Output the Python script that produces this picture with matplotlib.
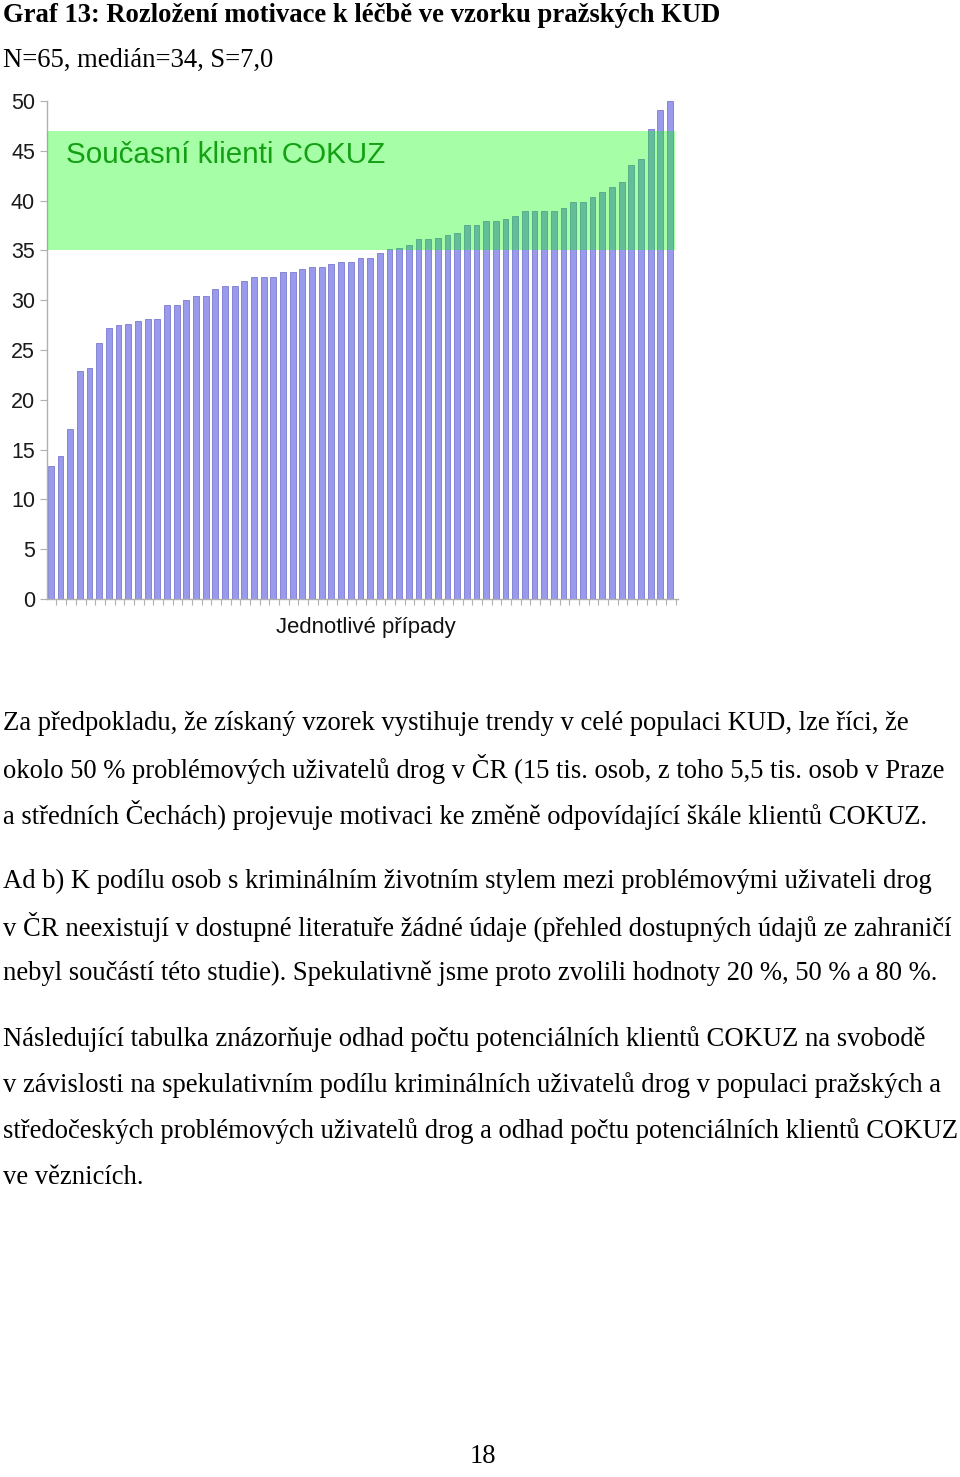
import numpy as np
import matplotlib
matplotlib.use("Agg")
import matplotlib.pyplot as plt

# hodnoty motivace jednotlivych pripadu (serazene)
hodnoty = [13.4, 14.4, 17.1, 22.9, 23.2, 25.7, 27.2, 27.5, 27.6, 27.9,
           28.1, 28.1, 29.5, 29.5, 30.0, 30.4, 30.4, 31.1, 31.4, 31.4,
           31.9, 32.3, 32.3, 32.3, 32.8, 32.8, 33.1, 33.3, 33.3, 33.6,
           33.8, 33.8, 34.2, 34.2, 34.7, 35.1, 35.2, 35.5, 36.1, 36.1,
           36.2, 36.5, 36.7, 37.6, 37.6, 38.0, 38.0, 38.2, 38.5, 39.0,
           39.0, 39.0, 39.0, 39.3, 39.9, 39.9, 40.4, 40.9, 41.4, 41.9,
           43.6, 44.2, 47.2, 49.1, 50.0]
pasmo = (35, 47)
y_ticks = [0, 5, 10, 15, 20, 25, 30, 35, 40, 45, 50]

nadpis = "Graf 13: Rozložení motivace k léčbě ve vzorku pražských KUD"
podnadpis = "N=65, medián=34, S=7,0"
popis_pasma = "Současní klienti COKUZ"
popis_x = "Jednotlivé případy"
odstavce = [
    ["Za předpokladu, že získaný vzorek vystihuje trendy v celé populaci KUD, lze říci, že",
     "okolo 50 % problémových uživatelů drog v ČR (15 tis. osob, z toho 5,5 tis. osob v Praze",
     "a středních Čechách) projevuje motivaci ke změně odpovídající škále klientů COKUZ."],
    ["Ad b) K podílu osob s kriminálním životním stylem mezi problémovými uživateli drog",
     "v ČR neexistují v dostupné literatuře žádné údaje (přehled dostupných údajů ze zahraničí",
     "nebyl součástí této studie). Spekulativně jsme proto zvolili hodnoty 20 %, 50 % a 80 %."],
    ["Následující tabulka znázorňuje odhad počtu potenciálních klientů COKUZ na svobodě",
     "v závislosti na spekulativním podílu kriminálních uživatelů drog v populaci pražských a",
     "středočeských problémových uživatelů drog a odhad počtu potenciálních klientů COKUZ",
     "ve věznicích."],
]
cislo_strany = "18"

W, H = 960, 1477
fig = plt.figure(figsize=(W / 100, H / 100), dpi=100)

def fy(py):
    return 1 - py / H

# osy grafu v pixelech: x 47..678, y 101..599
ax = fig.add_axes([47 / W, fy(599), (678 - 47) / W, (599 - 101) / H])
x = np.arange(len(hodnoty))
ax.bar(x, hodnoty, width=0.6, color="#9a9aec", edgecolor="#7a7ad0",
       linewidth=0.6, zorder=2)
ax.axhspan(pasmo[0], pasmo[1], xmin=0, xmax=0.995, color="#00ff00",
           alpha=0.35, lw=0, zorder=3)
ax.text(1.6, 44.6, popis_pasma, fontsize=21.3, color="#14a014",
        family="Liberation Sans", va="center", zorder=4)

ax.set_xlim(-0.4, 64.83)
ax.set_ylim(0, 50)
ax.set_yticks(y_ticks)
ax.set_yticklabels([str(v) for v in y_ticks], family="Liberation Sans",
                   fontsize=15.5, color="#1a1a1a")
ax.set_xticks(np.arange(65) + 0.58)
ax.set_xticklabels([])
ax.tick_params(axis="y", length=5, color="#b0b0b0", pad=3.6)
ax.tick_params(axis="x", length=4, color="#b0b0b0")
for s in ["top", "right"]:
    ax.spines[s].set_visible(False)
for s in ["left", "bottom"]:
    ax.spines[s].set_color("#b0b0b0")
    ax.spines[s].set_linewidth(1)
ax.patch.set_alpha(0)

fig.text(366 / W, fy(627), popis_x, ha="center", va="center",
         family="Liberation Sans", fontsize=15.9, color="#111111")

# texty mimo graf
serif = "Liberation Serif"
fs = 19.2
fig.text(3 / W, fy(15), nadpis, family=serif, fontsize=fs, weight="bold",
         va="center")
fig.text(3 / W, fy(60), podnadpis, family=serif, fontsize=fs, va="center")

zacatky = [723, 881, 1039]
for start, radky in zip(zacatky, odstavce):
    for i, r in enumerate(radky):
        fig.text(3 / W, fy(start + 46 * i), r, family=serif, fontsize=fs,
                 va="center")

fig.text(483 / W, fy(1469), cislo_strany, family=serif, fontsize=fs,
         ha="center", va="bottom")

fig.savefig("out.png", dpi=100)
